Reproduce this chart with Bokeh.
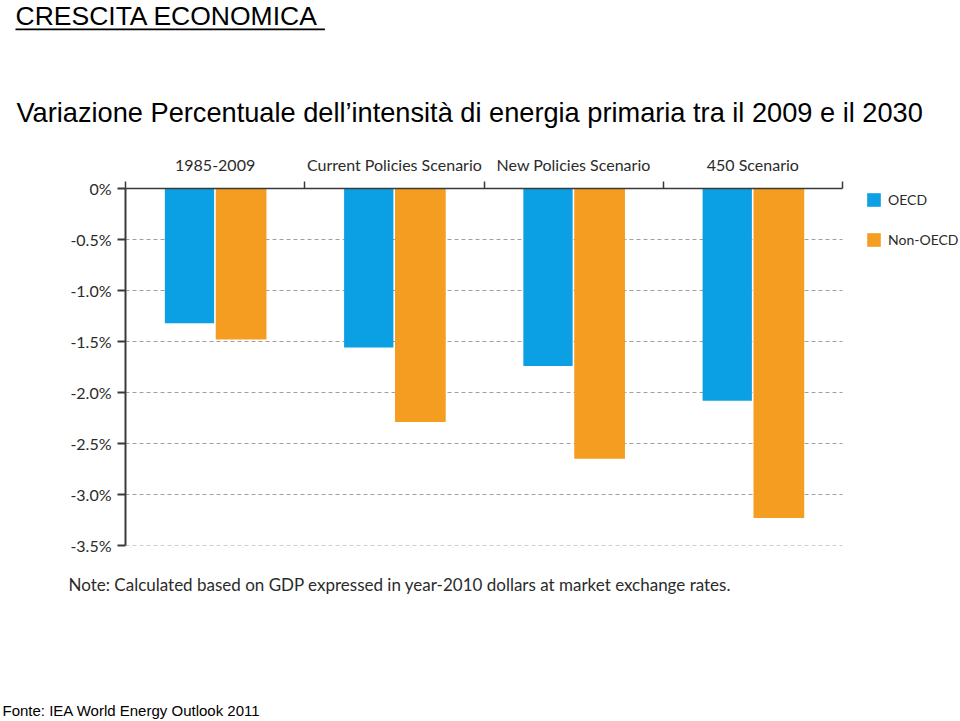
from bokeh.plotting import figure
from bokeh.models import (Range1d, FixedTicker, CustomJSTickFormatter, LinearAxis, Title,
                          Legend, LegendItem, ColumnDataSource)
from bokeh.transform import dodge
from bokeh.embed import file_html
from bokeh.resources import INLINE

categories = ["1985-2009", "Current Policies Scenario", "New Policies Scenario", "450 Scenario"]
oecd = [-1.32, -1.56, -1.74, -2.08]
non_oecd = [-1.48, -2.29, -2.65, -3.23]
y_ticks = [0, -0.5, -1.0, -1.5, -2.0, -2.5, -3.0, -3.5]

BLUE = "#0aa0e3"
ORANGE = "#f59d21"
AX = "#3a3a3a"
TXT = "#2b2b2b"
CF = "Lato"
AF = "Liberation Sans"
W, H = 960, 721
FL, FR, FT, FB = 125, 842, 188, 545   # plot area edges (page pixels); frame runs on to the right edge
n = len(categories)

src = ColumnDataSource(dict(pos=[i + 0.5 for i in range(n)], oecd=oecd, non=non_oecd))
grid_src = ColumnDataSource(dict(y=y_ticks, x0=[0] * len(y_ticks), x1=[n] * len(y_ticks)))

p = figure(width=W, height=H, output_backend="svg", toolbar_location=None,
           x_range=Range1d(0, n * (W - FL) / (FR - FL)), y_range=Range1d(-3.5, 0),
           x_axis_location=None, y_axis_location=None,
           min_border_left=FL, min_border_right=0,
           min_border_top=FT, min_border_bottom=H - FB)
p.outline_line_color = None
p.xgrid.visible = False
p.ygrid.visible = False

# dashed horizontal grid lines limited to the category span
p.segment(x0="x0", x1="x1", y0="y", y1="y", source=grid_src,
          line_color="#a0a0a0", line_dash="4 3", line_width=1)

r1 = p.vbar(x=dodge("pos", -0.143, range=p.x_range), top=0, bottom="oecd", width=0.275,
            source=src, fill_color=BLUE, line_color=None)
r2 = p.vbar(x=dodge("pos", 0.145, range=p.x_range), top=0, bottom="non", width=0.283,
            source=src, fill_color=ORANGE, line_color=None)

yax = LinearAxis(ticker=FixedTicker(ticks=y_ticks),
                 formatter=CustomJSTickFormatter(code='return tick == 0 ? "0%" : tick.toFixed(1) + "%"'))
yax.axis_line_color = AX
yax.axis_line_width = 2
yax.major_tick_line_color = AX
yax.major_tick_line_width = 2
yax.major_tick_out = 8
yax.major_tick_in = 0
yax.minor_tick_line_color = None
yax.major_label_text_font = CF
yax.major_label_text_font_size = "16px"
yax.major_label_text_color = TXT
yax.major_label_standoff = 6
p.add_layout(yax, "left")

xax = LinearAxis(ticker=FixedTicker(ticks=[i + 0.5 for i in range(n)],
                                    minor_ticks=list(range(n + 1))),
                 formatter=CustomJSTickFormatter(args=dict(labels=categories),
                                                 code="return labels[Math.floor(tick)]"),
                 bounds=(0, n))
xax.axis_line_color = AX
xax.axis_line_width = 1.5
xax.major_tick_out = 0
xax.major_tick_in = 0
xax.major_tick_line_color = None
xax.minor_tick_line_color = AX
xax.minor_tick_line_width = 1.5
xax.minor_tick_out = 7
xax.minor_tick_in = 0
xax.major_label_text_font = CF
xax.major_label_text_font_size = "16px"
xax.major_label_text_color = TXT
xax.major_label_standoff = 8
p.add_layout(xax, "above")

legend = Legend(items=[LegendItem(label="OECD", renderers=[r1]),
                       LegendItem(label="Non-OECD", renderers=[r2])],
                location=(865 - FL, 297), orientation="vertical")
legend.glyph_width = 17
legend.glyph_height = 17
legend.spacing = 23
legend.padding = 0
legend.margin = 0
legend.label_standoff = 6
legend.label_text_font = CF
legend.label_text_font_size = "14px"
legend.label_text_color = TXT
legend.border_line_color = None
legend.background_fill_alpha = 0
p.add_layout(legend, "center")


def spacer(size, side):
    a = LinearAxis(ticker=FixedTicker(ticks=[0.5]),
                   formatter=CustomJSTickFormatter(code='return ""'))
    a.axis_line_color = None
    a.major_tick_line_color = None
    a.minor_tick_line_color = None
    a.major_tick_out = size
    a.major_tick_in = 0
    a.major_label_standoff = 0
    a.major_label_text_font_size = "1px"
    p.add_layout(a, side)


# panels above the plot, listed from the plot outwards
p.add_layout(Title(text="Variazione Percentuale dell\u2019intensit\u00e0 di energia primaria tra il 2009 e il 2030",
                   align="left", offset=16 - FL, standoff=48, vertical_align="bottom",
                   text_font=AF, text_font_size="27.2px", text_font_style="normal",
                   text_color="black"), "above")
spacer(38, "above")
p.add_layout(Title(text=" ", align="left", offset=15 - FL, standoff=0, vertical_align="top",
                   text_font=AF, text_font_size="1.5px", text_color="black",
                   background_fill_color="black", padding=(0, 309, 0, 0)), "above")
p.add_layout(Title(text="CRESCITA ECONOMICA", align="left", offset=15 - FL, standoff=-4,
                   vertical_align="bottom", text_font=AF, text_font_size="26.5px",
                   text_font_style="normal", text_color="black"), "above")

# panels below the plot
p.add_layout(Title(text="Note: Calculated based on GDP expressed in year-2010 dollars at market exchange rates.",
                   align="left", offset=68 - FL, standoff=56, vertical_align="top",
                   text_font=CF, text_font_size="17px", text_font_style="normal",
                   text_color=TXT), "below")
spacer(75, "below")
p.add_layout(Title(text="Fonte: IEA World Energy Outlook 2011",
                   align="left", offset=2 - FL, standoff=0, vertical_align="bottom",
                   text_font=AF, text_font_size="15px", text_font_style="normal",
                   text_color="black"), "below")

open("out.html", "w").write(file_html(p, INLINE))
